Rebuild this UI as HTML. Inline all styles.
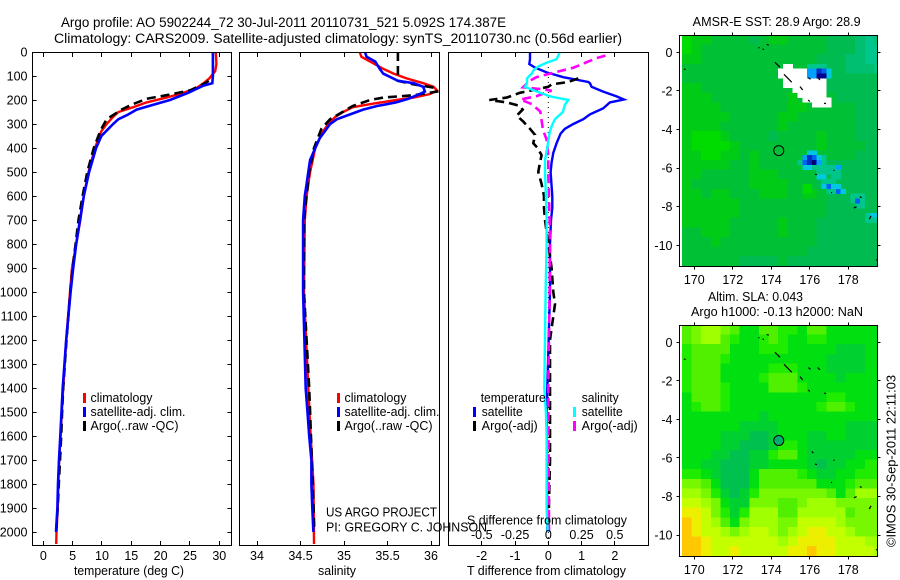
<!DOCTYPE html>
<html>
<head>
<meta charset="utf-8">
<title>Argo profile</title>
<style>
html,body{margin:0;padding:0;background:#fff;width:900px;height:580px;overflow:hidden}
svg{display:block}
text{font-family:"Liberation Sans",sans-serif;font-size:12.5px;fill:#000}
.t{font-size:13.5px}
.box{fill:none;stroke:#000;stroke-width:1;shape-rendering:crispEdges}
</style>
</head>
<body>
<svg id="chart" width="900" height="580" viewBox="0 0 900 580" xmlns="http://www.w3.org/2000/svg">
<defs>
<clipPath id="clipP1"><rect x="32.5" y="52" width="199" height="493"/></clipPath>
<clipPath id="clipP2"><rect x="239.5" y="52" width="200" height="493"/></clipPath>
<clipPath id="clipP3"><rect x="448.5" y="52" width="200" height="493"/></clipPath>
<clipPath id="clipM1"><rect x="680" y="35" width="197.5" height="232"/></clipPath>
<clipPath id="clipM2"><rect x="680" y="325" width="197.5" height="232"/></clipPath>
</defs>
<text class="t" x="61" y="27" textLength="445" lengthAdjust="spacingAndGlyphs">Argo profile: AO 5902244_72 30-Jul-2011 20110731_521 5.092S 174.387E</text>
<text class="t" x="54" y="43" textLength="568" lengthAdjust="spacingAndGlyphs">Climatology: CARS2009. Satellite-adjusted climatology: synTS_20110730.nc (0.56d earlier)</text>
<g id="marks"></g>
<rect class="box" x="32.5" y="52.5" width="199" height="493"/>
<rect class="box" x="239.5" y="52.5" width="200" height="493"/>
<rect class="box" x="448.5" y="52.5" width="200" height="493"/>
<rect class="box" x="679.5" y="35.5" width="198" height="231"/>
<rect class="box" x="679.5" y="325.5" width="198" height="231"/>
<text x="74" y="575" textLength="110" lengthAdjust="spacingAndGlyphs">temperature (deg C)</text>
<text x="318" y="575" textLength="38" lengthAdjust="spacingAndGlyphs">salinity</text>
<text x="467" y="575" textLength="159" lengthAdjust="spacingAndGlyphs">T difference from climatology</text>
<text x="467" y="524.5" textLength="160" lengthAdjust="spacingAndGlyphs">S difference from climatology</text>
<text x="326" y="516.5" textLength="111" lengthAdjust="spacingAndGlyphs">US ARGO PROJECT</text>
<text x="326" y="531.5" textLength="161" lengthAdjust="spacingAndGlyphs">PI: GREGORY C. JOHNSON</text>
<g>
<rect x="83" y="393" width="3" height="10" fill="#f00"/>
<rect x="83" y="407" width="3" height="10" fill="#00f"/>
<rect x="83" y="421" width="3" height="10" fill="#000"/>
<text x="90.5" y="402" textLength="62" lengthAdjust="spacingAndGlyphs">climatology</text>
<text x="90.5" y="416" textLength="95" lengthAdjust="spacingAndGlyphs">satellite-adj. clim.</text>
<text x="90.5" y="430" textLength="88" lengthAdjust="spacingAndGlyphs">Argo(..raw -QC)</text>
</g>
<g>
<rect x="337" y="393" width="3" height="10" fill="#f00"/>
<rect x="337" y="407" width="3" height="10" fill="#00f"/>
<rect x="337" y="421" width="3" height="10" fill="#000"/>
<text x="344.5" y="402" textLength="62" lengthAdjust="spacingAndGlyphs">climatology</text>
<text x="344.5" y="416" textLength="95" lengthAdjust="spacingAndGlyphs">satellite-adj. clim.</text>
<text x="344.5" y="430" textLength="88" lengthAdjust="spacingAndGlyphs">Argo(..raw -QC)</text>
</g>
<g>
<text x="480.7" y="402" textLength="65" lengthAdjust="spacingAndGlyphs">temperature</text>
<rect x="473" y="407" width="3" height="10" fill="#00f"/>
<rect x="473" y="421" width="3" height="10" fill="#000"/>
<text x="481.7" y="416" textLength="41" lengthAdjust="spacingAndGlyphs">satellite</text>
<text x="481.7" y="430" textLength="56" lengthAdjust="spacingAndGlyphs">Argo(-adj)</text>
<text x="581.7" y="402" textLength="37" lengthAdjust="spacingAndGlyphs">salinity</text>
<rect x="573" y="407" width="3" height="10" fill="#0ff"/>
<rect x="573" y="421" width="3" height="10" fill="#f0f"/>
<text x="581.7" y="416" textLength="41" lengthAdjust="spacingAndGlyphs">satellite</text>
<text x="581.7" y="430" textLength="56" lengthAdjust="spacingAndGlyphs">Argo(-adj)</text>
</g>
<text x="692.7" y="26" textLength="168" lengthAdjust="spacingAndGlyphs">AMSR-E SST: 28.9 Argo: 28.9</text>
<text x="708" y="301" textLength="95" lengthAdjust="spacingAndGlyphs">Altim. SLA: 0.043</text>
<text x="691" y="316" textLength="172" lengthAdjust="spacingAndGlyphs">Argo h1000: -0.13 h2000: NaN</text>
<text transform="translate(895.5,547) rotate(-90)" x="0" y="0" textLength="172" lengthAdjust="spacingAndGlyphs">©IMOS 30-Sep-2011 22:11:03</text>
</svg>
<script>
// Shared tick labels
const depthTicks = [0,100,200,300,400,500,600,700,800,900,1000,1100,1200,1300,1400,1500,1600,1700,1800,1900,2000];
const tempTicks = [0,5,10,15,20,25,30];
const salTicks = [34,34.5,35,35.5,36];
const tDiffTicks = [-2,-1,0,1,2];
const sDiffTicks = [-0.5,-0.25,0,0.25,0.5];
const lonTicks = [170,172,174,176,178];
const latTicks = [0,-2,-4,-6,-8,-10];

// Temperature profiles
const tempClimDepth = [0,50,80,110,130,150,170,190,210,230,250,270,300,330,400,500,600,700,800,900,1000,1200,1400,1500,1600,1700,1800,1900,2000,2050];
const tempClim = [29.4,29.5,29.3,28.3,27.3,26.1,23.9,21,17.6,15.3,12.8,11.9,10.8,9.9,8.8,7.7,6.9,6.3,5.6,4.9,4.55,3.9,3.4,3.15,2.95,2.7,2.55,2.45,2.25,2.2];
const tempSatDepth = [0,100,130,140,170,200,220,240,260,280,300,320,350,400,500,600,700,800,900,1000,1200,1400,1500,1600,1700,1800,1900,2000];
const tempSat = [28.9,28.9,28.8,27.3,24.7,21.6,18.75,15.9,14.5,12.8,11.9,11.1,9.9,9,7.8,6.9,6.25,5.6,5.1,4.66,3.9,3.3,3.1,2.9,2.67,2.5,2.4,2.16];
const tempArgoDepth = [120,130,160,180,195,220,240,280,320,350,400,500,600,700,800,900,1000,1200,1400,1500,1600,1700,1800,1900,2000];
const tempArgo = [28.2,27.6,25,21,17.6,15,13.35,10.8,9.9,9.4,8.6,7.5,6.7,6,5.5,5,4.6,3.95,3.4,3.2,3.05,2.85,2.65,2.45,2.2];

// Salinity profiles
const salClimDepth = [0,20,40,70,90,110,130,145,160,175,190,200,215,230,250,270,300,330,400,500,600,700,1000,1400,1600,1800,2050];
const salClim = [35.18,35.2,35.3,35.45,35.57,35.72,35.91,36.03,36.07,35.99,35.8,35.6,35.34,35.1,34.99,34.9,34.82,34.76,34.67,34.61,34.57,34.55,34.54,34.59,34.617,34.65,34.655];
const salSatDepth = [0,20,40,70,90,120,130,145,165,175,195,210,225,240,260,280,300,330,360,400,450,500,550,600,700,1000,1400,1500,1600,1700,1800,1900,2000];
const salSat = [35.24,35.26,35.36,35.41,35.45,35.62,35.8,35.91,35.93,35.87,35.74,35.6,35.38,35.22,35.07,34.92,34.84,34.78,34.72,34.67,34.61,34.59,34.57,34.55,34.53,34.53,34.56,34.58,34.6,34.625,34.625,34.636,34.648];
const salArgoDepth = [0,120,135,150,165,180,190,200,225,240,280,320,400,500,700,1000,1400,1500,2000];
const salArgo = [35.62,35.62,35.8,36.06,36.07,35.8,35.45,35.3,35.1,35.03,34.84,34.74,34.655,34.6,34.54,34.54,34.6,34.61,34.66];

// Differences from climatology
const tDiffSatDepth = [0,30,50,65,85,105,125,130,145,165,185,198,210,235,260,280,300,320,340,380,420,460,500,600,650,700,800,1000,1400,1500,2000];
const tDiffSat = [-0.55,-0.55,-0.57,-0.4,-0.05,0.45,1.2,1.25,1.3,1.65,2.05,2.27,1.85,1.65,1.25,1.05,0.75,0.5,0.37,0.25,0.15,0.1,0.07,0.12,0.12,0.08,0.05,0.05,-0.03,-0.05,-0.03];
const tDiffArgoDepth = [110,125,135,145,170,190,200,210,225,240,265,290,320,345,380,400,430,460,500,550,600,650,700,800,900,1000,1050,1200,1400,1700,2000];
const tDiffArgo = [0.9,0.6,0.1,0,-0.85,-1.25,-1.77,-1.25,-0.85,-0.77,-0.95,-0.75,-0.55,-0.4,-0.45,-0.32,-0.2,-0.25,-0.3,-0.2,-0.13,-0.13,-0.1,0,0.1,0.15,0.2,0.05,0.05,0.05,0];
const sDiffSatDepth = [0,30,45,60,75,90,110,130,145,160,185,200,220,250,280,310,340,400,450,500,600,700,800,1000,1400,1500,1600,1900,2000];
const sDiffSat = [0.0875,0.0625,-0.0125,-0.075,-0.11,-0.125,-0.16,-0.16,-0.175,-0.11,0.0125,0.15,0.125,0.11,0.05,0.025,0.008,-0.008,-0.025,-0.025,-0.018,-0.0125,-0.0125,-0.02,-0.03,-0.018,-0.0125,-0.0125,-0.005];
const sDiffArgoDepth = [15,26,40,65,85,105,120,147,154,161,184,198,217,248,325,365,435,505,760,1000,1400,2000];
const sDiffArgo = [0.43,0.36,0.3,0.19,0.05,-0.09,-0.14,-0.19,-0.06,0.025,-0.09,-0.21,-0.125,-0.06,-0.04,-0.0125,0,0,0.0125,0.01,0,0.005];

// SST map: 0.5-degree background levels (row = north to south)
const sstRows = [
[10,9,9,8,8,8,8,7,8,9,9,8,8,8,8,7,7,7,6,5,6],
[10,9,8,8,8,8,8,8,8,8,8,8,8,8,8,7,7,7,6,5,5],
[9,9,8,8,8,8,8,8,8,8,8,8,8,8,7,7,7,6,6,5,5],
[8,8,8,8,8,8,8,8,8,8,8,8,8,7,7,7,7,6,6,6,5],
[8,8,8,8,8,8,8,8,8,8,8,8,7,7,7,7,7,7,7,7,7],
[9,9,8,8,8,8,8,8,8,8,8,8,8,8,8,7,7,7,7,7,7],
[9,9,9,8,8,8,8,8,8,8,8,9,8,8,8,8,7,7,7,7,7],
[9,9,9,9,8,8,8,8,8,8,8,9,9,8,8,8,8,8,7,7,7],
[9,9,9,9,9,8,8,8,8,8,9,9,8,8,8,8,8,8,7,7,7],
[9,9,9,9,8,8,8,8,8,8,9,8,8,8,8,8,8,8,7,7,7],
[9,10,10,10,9,8,8,8,8,7,8,8,8,8,9,8,8,8,7,7,7],
[9,10,10,10,10,9,8,8,8,8,8,8,8,8,9,8,8,8,8,7,7],
[9,9,10,10,9,9,8,9,8,8,8,8,8,8,8,8,8,8,7,7,7],
[9,9,9,9,9,8,8,9,8,8,8,8,8,8,7,7,7,7,7,7,7],
[9,9,8,8,8,8,8,9,9,9,8,8,8,8,7,7,7,7,7,7,7],
[9,8,8,8,8,8,8,9,9,9,9,8,8,8,7,7,7,7,7,7,7],
[9,9,8,9,9,8,8,8,9,9,9,8,8,9,8,7,7,7,7,7,7],
[9,9,9,9,9,9,8,8,8,8,8,8,8,8,8,7,7,7,7,7,7],
[9,9,9,9,9,9,8,8,8,8,8,8,8,8,8,7,7,7,7,7,7],
[9,9,9,9,9,8,8,8,8,8,9,8,8,8,7,7,7,7,7,7,7],
[8,8,9,9,9,8,8,8,8,8,9,8,8,8,7,7,7,7,7,7,7],
[8,8,8,9,8,8,8,8,8,8,8,8,8,8,7,7,7,7,7,7,7],
[8,8,8,8,8,8,8,8,8,8,8,8,8,7,7,7,7,7,7,7,7],
[8,8,8,8,8,8,7,7,7,7,8,7,7,7,7,7,7,7,7,7,7]
];
// SST map: 0.25-degree runs [row, first column, cell count, level]; level null = missing data
const sstRuns = [
[6,21,2,null],[7,20,6,null],[8,20,6,null],[9,21,9,null],[10,21,9,null],[11,23,7,null],[12,24,6,null],[13,25,6,null],[14,27,4,null],
[6,26,4,5],[7,26,2,3],[7,28,1,1],[7,29,1,2],[7,30,1,4],[8,26,2,3],[8,28,2,0],[8,30,1,4],
[24,26,2,4],[25,25,1,3],[25,26,1,1],[25,27,1,2],[25,28,1,4],[25,29,1,5],
[26,24,1,5],[26,25,1,2],[26,26,1,1],[26,27,1,0],[26,28,1,3],[26,29,1,5],
[27,25,2,4],[27,27,2,5],[27,29,3,5],[27,32,1,3],[28,28,5,5],[29,28,2,4],[29,31,2,5],
[30,29,3,5],[31,29,1,4],[31,30,1,2],[31,31,1,4],[31,32,1,4],[32,30,2,5],[32,32,1,2],[32,33,1,4],
[33,35,3,5],[34,35,1,5],[34,36,1,2],[34,37,1,5],[35,36,2,5],[37,38,3,5],[37,39,2,4],[38,38,3,5],
[31,25,2,10],[32,25,2,10],[33,25,2,9]
];
// Sea level anomaly map: 0.5-degree levels
const slaRows = [
[5,6,7,7,6,5,3,3,5,5,4,4,3,5,5,3,3,3,3,3,3],
[5,6,7,7,5,4,3,3,4,5,4,3,3,4,4,3,3,3,3,3,3],
[4,5,5,5,5,3,3,3,4,4,4,3,3,3,3,3,2,2,2,3,3],
[4,5,5,5,4,3,3,3,3,3,3,3,3,3,3,2,2,2,2,3,3],
[4,5,5,5,3,3,3,3,3,4,4,4,3,3,3,2,2,2,2,3,3],
[4,5,5,5,3,3,3,3,4,5,5,5,3,3,3,3,2,3,3,3,3],
[4,5,5,5,4,3,3,3,3,5,5,5,4,3,3,3,3,3,3,3,3],
[3,5,5,5,4,3,3,3,3,3,3,3,3,3,3,4,4,3,3,3,3],
[3,4,5,5,4,3,3,3,3,3,3,3,3,3,4,5,5,4,3,3,3],
[3,3,3,3,3,3,3,3,2,3,3,3,3,3,3,3,3,3,3,3,3],
[3,3,3,3,3,3,2,2,2,2,3,3,3,3,3,3,3,2,2,2,2],
[3,3,3,3,2,2,2,1,1,2,3,3,3,2,2,3,3,2,2,2,2],
[3,3,3,3,2,2,1,1,1,2,4,4,3,2,2,2,2,2,2,2,2],
[3,3,3,2,2,1,1,2,2,4,5,5,3,2,2,2,2,2,3,3,3],
[3,3,2,2,1,1,1,2,2,3,3,3,3,2,1,2,2,3,3,4,4],
[4,4,3,2,1,1,1,3,5,5,5,5,4,3,2,2,3,3,4,4,4],
[6,6,5,3,1,1,1,3,5,5,5,5,5,5,3,3,3,4,5,5,5],
[7,7,6,4,2,1,2,4,6,6,6,6,6,6,6,5,3,5,7,7,7],
[8,8,7,6,3,2,2,6,6,6,5,5,6,7,7,7,6,6,6,6,6],
[9,9,8,6,4,2,4,7,7,7,5,5,7,7,7,7,7,5,6,6,6],
[10,9,8,7,5,3,6,7,7,7,6,6,8,8,8,8,7,6,6,6,6],
[10,9,8,8,7,6,7,8,8,7,6,7,8,9,9,8,8,7,6,6,6],
[10,10,9,8,8,8,8,8,8,8,7,8,9,9,9,9,8,8,8,7,7],
[10,10,9,8,8,9,8,8,8,8,8,9,9,10,9,9,8,8,8,8,7]
];
// Coastline fragments as [lon, lat, lon, lat]
const coastLon1 = [173.33,173.54,173.76,174.19,174.66,175.49,175.92,176.41,175.92,176.74,176.1,176.27,177.25,177.1,178.6,178.29,179.09,169.46,179.44];
const coastLat1 = [0.24,0.16,0.41,-0.52,-1.14,-1.78,-1.31,-1.31,-2.47,-2.64,-5.66,-6.32,-6.09,-7.27,-7.48,-8.07,-8.65,-0.88,-10.76];
const coastLon2 = [173.39,173.62,173.87,174.45,175.06,175.63,176.04,176.53,176.0,176.84,176.18,176.37,177.27,177.16,178.69,178.43,179.18,169.55,179.5];
const coastLat2 = [0.24,0.16,0.37,-0.78,-1.55,-1.95,-1.4,-1.43,-2.55,-2.66,-5.75,-6.34,-6.15,-7.27,-7.53,-8.0,-8.48,-0.88,-10.76];
const floatLon = [174.387];
const floatLat = [-5.092];

const sstColors = ['#000090','#0030c0','#0060f0','#00a0ff','#00c8e0','#00c68c','#00bf70','#00bc50','#00c036','#00cc18','#00dc00'];
const slaColors = ['#00b070','#00c050','#00d030','#00e010','#20ec00','#50f000','#78f800','#a0ff00','#c4ff00','#ecf000','#ffc800'];

// Axis functions
const yD = d => 52 + 0.24 * d;
const xTemp = v => 43.3 + 5.867 * v;
const xSal = v => 257 + 87 * (v - 34);
const xTD = v => 548.3 + 33.3 * v;
const xSD = v => 548.3 + 133 * v;
const xLon = l => 694.3 + 19.25 * (l - 170);
const yLat1 = l => 52.3 - 19.3 * l;
const yLat2 = l => 342.3 - 19.28 * l;
const mapLeft = 682, cell = 4.81;

const NS = 'http://www.w3.org/2000/svg';
const root = document.getElementById('marks');
function mk(tag, parent, attrs) {
  const el = document.createElementNS(NS, tag);
  for (const k in attrs) el.setAttribute(k, attrs[k]);
  parent.appendChild(el);
  return el;
}
function group(name, clip) {
  const g = mk('g', root, clip ? {'clip-path': 'url(#' + clip + ')'} : {});
  
  
  return g;
}
function series(name, clip, depth, vals, xf, color, width, dash) {
  const pts = depth.map((d, i) => xf(vals[i]).toFixed(1) + ',' + yD(d).toFixed(1)).join(' ');
  const attrs = {points: pts, fill: 'none', stroke: color, 'stroke-width': width};
  if (dash) attrs['stroke-dasharray'] = dash;
  const el = mk('polyline', root, attrs);
  el.setAttribute('clip-path', 'url(#' + clip + ')');
  
  
}
function label(g, x, y, str, anchor) {
  const el = mk('text', g, {x: x, y: y, 'text-anchor': anchor});
  el.textContent = str;
  
  
}
function tick(g, x1, y1, x2, y2) {
  const el = mk('line', g, {x1: x1, y1: y1, x2: x2, y2: y2, stroke: '#000', 'stroke-width': 1, 'shape-rendering': 'crispEdges'});
  
  
}

// Maps
function drawMap(name, clip, rows, colors, yf) {
  const g = group(name, clip);
  const top = yf(0.9);
  rows.forEach((row, j) => row.forEach((v, i) => {
    const r = mk('rect', g, {x: mapLeft + i * cell * 2, y: top + j * cell * 2, width: cell * 2 + 0.5, height: cell * 2 + 0.5, fill: colors[v], 'shape-rendering': 'crispEdges'});
    
    
  }));
  return g;
}
const sstG = drawMap('sst-heatmap', 'clipM1', sstRows, sstColors, yLat1);
sstRuns.forEach(run => {
  const r = mk('rect', sstG, {x: mapLeft + run[1] * cell, y: yLat1(0.9) + run[0] * cell, width: run[2] * cell + 0.3, height: cell + 0.3, fill: run[3] === null ? '#fff' : sstColors[run[3]], 'shape-rendering': 'crispEdges'});
  
  
});
const slaG = drawMap('sla-heatmap', 'clipM2', slaRows, slaColors, yLat2);
function coast(g, yf) {
  coastLon1.forEach((l, i) => {
    const s = mk('line', g, {x1: xLon(l), y1: yf(coastLat1[i]), x2: xLon(coastLon2[i]), y2: yf(coastLat2[i]), stroke: '#000', 'stroke-width': 1.2});
    
    
  });
}
coast(sstG, yLat1);
coast(slaG, yLat2);
function floatMark(g, yf, fill) {
  const c = mk('circle', g, {cx: xLon(floatLon[0]), cy: yf(floatLat[0]), r: 5, fill: fill, stroke: '#000', 'stroke-width': 1});
  
  
}
floatMark(sstG, yLat1, 'none');
floatMark(slaG, yLat2, '#00b070');

// Profile lines
series('temperature-climatology-line', 'clipP1', tempClimDepth, tempClim, xTemp, '#f00', 2.4);
series('temperature-argo-line', 'clipP1', tempArgoDepth, tempArgo, xTemp, '#000', 2.6, '9 5');
series('temperature-satellite-line', 'clipP1', tempSatDepth, tempSat, xTemp, '#00f', 2.6);
series('salinity-climatology-line', 'clipP2', salClimDepth, salClim, xSal, '#f00', 2.4);
series('salinity-argo-line', 'clipP2', salArgoDepth, salArgo, xSal, '#000', 2.6, '9 5');
series('salinity-satellite-line', 'clipP2', salSatDepth, salSat, xSal, '#00f', 2.6);

const zero = mk('line', root, {x1: xTD(0), y1: 52, x2: xTD(0), y2: 545, stroke: '#000', 'stroke-width': 1, 'stroke-dasharray': '1 4'});


series('t-difference-satellite-line', 'clipP3', tDiffSatDepth, tDiffSat, xTD, '#00f', 2.4);
series('t-difference-argo-line', 'clipP3', tDiffArgoDepth, tDiffArgo, xTD, '#000', 2.6, '9 5');
series('s-difference-argo-line', 'clipP3', sDiffArgoDepth, sDiffArgo, xSD, '#f0f', 2.6, '9 5');
series('s-difference-satellite-line', 'clipP3', sDiffSatDepth, sDiffSat, xSD, '#0ff', 2.4);

// Axes
const ax = group('axes-ticks');
depthTicks.forEach(d => {
  const y = Math.floor(yD(d)) + 0.5;
  tick(ax, 32.5, y, 36.5, y);
  tick(ax, 227.5, y, 231.5, y);
  label(ax, 27.5, yD(d) + 4.5, String(d), 'end');
});
function xTicks(vals, xf, labY) {
  vals.forEach(v => {
    const x = Math.floor(xf(v)) + 0.5;
    tick(ax, x, 52.5, x, 57);
    tick(ax, x, 541, x, 545.5);
    label(ax, xf(v), labY, String(v), 'middle');
  });
}
xTicks(tempTicks, xTemp, 560);
xTicks(salTicks, xSal, 560);
xTicks(tDiffTicks, xTD, 560);
sDiffTicks.forEach(v => label(ax, xSD(v), 539, String(v), 'middle'));

function mapAxes(yf, top, bottom, labY) {
  lonTicks.forEach(l => {
    const x = Math.floor(xLon(l)) + 0.5;
    tick(ax, x, top - 3, x, top);
    tick(ax, x, bottom, x, bottom + 3);
    label(ax, xLon(l), labY, String(l), 'middle');
  });
  latTicks.forEach(l => {
    const y = Math.floor(yf(l)) + 0.5;
    tick(ax, 676.5, y, 679.5, y);
    tick(ax, 877.5, y, 880.5, y);
    label(ax, 672.5, yf(l) + 4.5, String(l), 'end');
  });
}
mapAxes(yLat1, 35.5, 266.5, 284);
mapAxes(yLat2, 325.5, 556.5, 574);
</script>
</body>
</html>
